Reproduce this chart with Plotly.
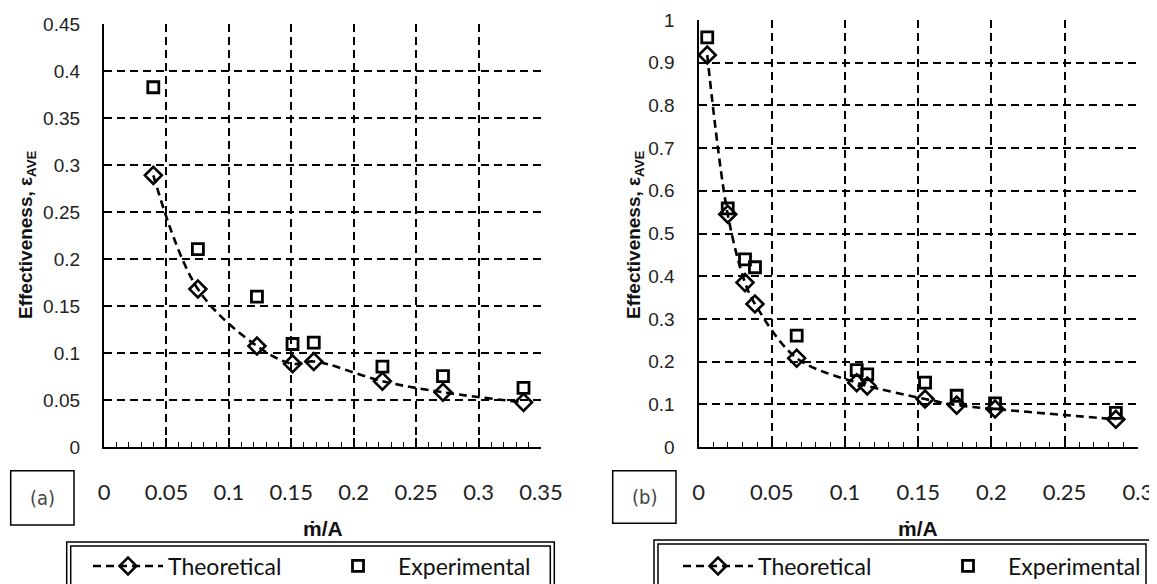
import plotly.graph_objects as go

W, H = 1157, 584
OFF = 8  # page body margin offset of the plot div

# ---------------- data (a) ----------------
a_x = [0.0395, 0.0752, 0.1225, 0.151, 0.168, 0.223, 0.2715, 0.336]
a_theo = [0.289, 0.168, 0.1074, 0.0885, 0.091, 0.0700, 0.0582, 0.0475]
a_exp = [0.3827, 0.2106, 0.160, 0.1096, 0.111, 0.0854, 0.0755, 0.063]

# ---------------- data (b) ----------------
b_x = [0.0059, 0.0199, 0.0317, 0.0385, 0.067, 0.108, 0.1152, 0.1547, 0.1763, 0.2025, 0.285]
b_theo = [0.918, 0.545, 0.385, 0.335, 0.208, 0.1506, 0.143, 0.1124, 0.098, 0.089, 0.065]
b_exp = [0.9595, 0.559, 0.4396, 0.421, 0.2607, 0.180, 0.170, 0.1506, 0.120, 0.102, 0.080]

# ---------------- tick labels ----------------
a_xticks = [0, 0.05, 0.1, 0.15, 0.2, 0.25, 0.3, 0.35]
a_xtext = ["0", "0.05", "0.1", "0.15", "0.2", "0.25", "0.3", "0.35"]
a_yticks = [0, 0.05, 0.1, 0.15, 0.2, 0.25, 0.3, 0.35, 0.4, 0.45]
a_ytext = ["0", "0.05", "0.1", "0.15", "0.2", "0.25", "0.3", "0.35", "0.4", "0.45"]
b_xticks = [0, 0.05, 0.1, 0.15, 0.2, 0.25, 0.3]
b_xtext = ["0", "0.05", "0.1", "0.15", "0.2", "0.25", "0.3"]
b_yticks = [0, 0.1, 0.2, 0.3, 0.4, 0.5, 0.6, 0.7, 0.8, 0.9, 1.0]
b_ytext = ["0", "0.1", "0.2", "0.3", "0.4", "0.5", "0.6", "0.7", "0.8", "0.9", "1"]

series_names = ["Theoretical", "Experimental"]
x_title = "ṁ/A"
y_title = "<b>Effectiveness, ε<sub>AVE</sub></b>"


def px(x):
    return (x - OFF) / W


def py(y):
    return 1 - (y - OFF) / H


TICKFONT_Y = dict(family="Liberation Sans, Arial", size=19, color="#222")
TICKFONT_X = dict(family="Lato, Open Sans", size=22, color="#222")
LEGFONT = dict(family="Lato, Open Sans", size=23, color="#111")

fig = go.Figure()

line_style = dict(color="black", width=2.6, dash="8px,5px", shape="spline", smoothing=1)
dia = dict(symbol="diamond-open", size=13, color="black", line=dict(color="black", width=2.6))
sq = dict(symbol="square-open", size=11, color="black", line=dict(color="black", width=2.8))

fig.add_trace(go.Scatter(x=a_x, y=a_theo, mode="lines+markers", name=series_names[0],
                         line=line_style, marker=dia, xaxis="x", yaxis="y", legend="legend"))
fig.add_trace(go.Scatter(x=a_x, y=a_exp, mode="markers", name=series_names[1],
                         marker=sq, xaxis="x", yaxis="y", legend="legend"))
fig.add_trace(go.Scatter(x=b_x, y=b_theo, mode="lines+markers", name=series_names[0],
                         line=line_style, marker=dia, xaxis="x2", yaxis="y2", legend="legend2"))
fig.add_trace(go.Scatter(x=b_x, y=b_exp, mode="markers", name=series_names[1],
                         marker=sq, xaxis="x2", yaxis="y2", legend="legend2"))

grid = dict(showgrid=True, gridcolor="black", gridwidth=1.6, griddash="8px,5px",
            zeroline=False, showline=True, linecolor="black", linewidth=2.2)

xcommon = dict(ticks="inside", ticklen=9, tickwidth=1.6, tickcolor="black",
               minor=dict(dtick=0.01, ticks="inside", ticklen=5, tickwidth=1.3, tickcolor="black", showgrid=False),
               tickfont=TICKFONT_X, ticklabelstandoff=24, tickmode="array", automargin=False, **grid)
ycommon = dict(ticks="", tickfont=TICKFONT_Y, ticklabelstandoff=18, tickmode="array", automargin=False, **grid)

y_bot = py(447)

fig.update_layout(
    width=W, height=H,
    margin=dict(l=0, r=0, t=0, b=0, autoexpand=False),
    paper_bgcolor="white", plot_bgcolor="white",
    xaxis=dict(domain=[px(104), px(541)], range=[0, 0.35], anchor="y",
               tickvals=a_xticks, ticktext=a_xtext, **xcommon),
    yaxis=dict(domain=[y_bot, py(24)], range=[0, 0.45], anchor="x",
               tickvals=a_yticks, ticktext=a_ytext, **ycommon),
    xaxis2=dict(domain=[px(698.6), px(1137.8)], range=[0, 0.3], anchor="y2",
                tickvals=b_xticks, ticktext=b_xtext, **xcommon),
    yaxis2=dict(domain=[y_bot, py(20)], range=[0, 1.0], anchor="x2",
                tickvals=b_yticks, ticktext=b_ytext, **ycommon),
    legend=dict(orientation="h", x=px(88), y=py(566), xanchor="left", yanchor="middle",
                font=LEGFONT, itemwidth=70, entrywidth=145, entrywidthmode="pixels",
                bgcolor="rgba(0,0,0,0)", borderwidth=0),
    legend2=dict(orientation="h", x=px(678), y=py(566), xanchor="left", yanchor="middle",
                 font=LEGFONT, itemwidth=70, entrywidth=165, entrywidthmode="pixels",
                 bgcolor="rgba(0,0,0,0)", borderwidth=0),
    showlegend=True,
)

shapes = []
# double legend borders
for (ox0, ox1, oy0), (ix0, ix1, iy0) in [((66.7, 554.3, 542), (70.7, 550.3, 546)),
                                         ((654, 1150, 540), (658, 1146, 544))]:
    shapes.append(dict(type="rect", xref="paper", yref="paper", x0=px(ox0), x1=px(ox1),
                       y0=py(600), y1=py(oy0), line=dict(color="black", width=1.5)))
    shapes.append(dict(type="rect", xref="paper", yref="paper", x0=px(ix0), x1=px(ix1),
                       y0=py(600), y1=py(iy0), line=dict(color="black", width=1.5)))
# (a) and (b) boxes
for x0, x1, y0, y1 in [(10.7, 74, 470.7, 525), (612.7, 676, 470.7, 523.3)]:
    shapes.append(dict(type="rect", xref="paper", yref="paper", x0=px(x0), x1=px(x1),
                       y0=py(y1), y1=py(y0), line=dict(color="black", width=1.5),
                       fillcolor="white"))
fig.update_layout(shapes=shapes)

ann = []
lab_font = dict(family="Liberation Sans Narrow, DejaVu Sans Condensed", size=20, color="#444")
ann.append(dict(text="(a)", x=px(42.3), y=py(498), font=lab_font))
ann.append(dict(text="(b)", x=px(644.3), y=py(497), font=lab_font))
for cx in [(104 + 541) / 2, (698.6 + 1137.8) / 2]:
    ann.append(dict(text="<b>" + x_title + "</b>", x=px(cx), y=py(528),
                    font=dict(family="Liberation Sans, Arial", size=21, color="#111")))
for cx in [27, 635]:
    ann.append(dict(text=y_title, x=px(cx), y=py(235), textangle=-90,
                    font=dict(family="Liberation Sans, Arial", size=19, color="#111")))
for a in ann:
    a.update(xref="paper", yref="paper", showarrow=False, xanchor="center", yanchor="middle")
fig.update_layout(annotations=ann)

fig.write_html("out.html")
